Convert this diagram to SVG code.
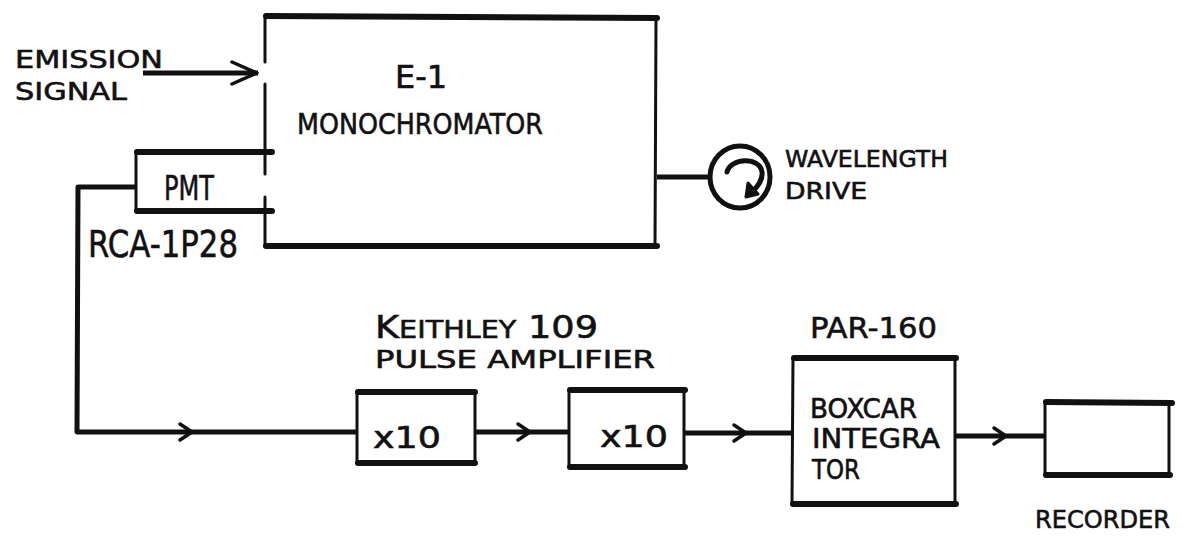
<svg xmlns="http://www.w3.org/2000/svg" width="1192" height="539" viewBox="0 0 1192 539">
<style>
.t{font-family:"DejaVu Sans","Liberation Sans",sans-serif;fill:#111;stroke:#111;stroke-width:0.6;}
.side{stroke:#111;stroke-width:3;fill:none;stroke-linecap:round;}
.edge{stroke:#111;stroke-width:6;fill:none;stroke-linecap:round;}
.wire{stroke:#111;stroke-width:5;fill:none;stroke-linejoin:round;}
.chev{stroke:#111;stroke-width:3.5;fill:none;stroke-linecap:round;stroke-linejoin:round;}
</style>
<rect width="1192" height="539" fill="#fff"/>

<g id="monochromator">
<path class="edge" d="M266 16 L657 18"/>
<path class="edge" d="M266 246 L657 246"/>
<path class="side" d="M656 18 L655 246"/>
<path class="side" d="M265 16 L265 62 M265 84 L265 174 M265 197 L265 246"/>
<text class="t" x="395" y="88" font-size="32" textLength="52" lengthAdjust="spacingAndGlyphs">E-1</text>
<text class="t" x="297" y="134" font-size="29" textLength="246" lengthAdjust="spacingAndGlyphs">MONOCHROMATOR</text>
</g>

<g id="pmt">
<path class="edge" d="M137 152 L272 152"/>
<path class="edge" d="M137 211 L272 211"/>
<path class="side" d="M136 152 L136 211"/>
<text class="t" x="164" y="200" font-size="34" textLength="50" lengthAdjust="spacingAndGlyphs">PMT</text>
<text class="t" x="88" y="257" font-size="38" textLength="150" lengthAdjust="spacingAndGlyphs">RCA-1P28</text>
</g>

<g id="emission-label">
<text class="t" x="15" y="68" font-size="25" textLength="148" lengthAdjust="spacingAndGlyphs">EMISSION</text>
<text class="t" x="15" y="100" font-size="25" textLength="112" lengthAdjust="spacingAndGlyphs">SIGNAL</text>
</g>

<g id="wavelength-drive">
<ellipse cx="740" cy="177" rx="30" ry="31" fill="none" stroke="#111" stroke-width="5"/>
<path d="M727 172 C730 158 760 156 762 172 C763 180 758 186 752 192" fill="none" stroke="#111" stroke-width="5" stroke-linecap="round"/>
<path d="M748 183 L746 197 L758 194 Z" fill="#111" stroke="#111" stroke-width="3" stroke-linejoin="round"/>
<text class="t" x="785" y="167" font-size="23" textLength="163" lengthAdjust="spacingAndGlyphs">WAVELENGTH</text>
<text class="t" x="785" y="199" font-size="23" textLength="82" lengthAdjust="spacingAndGlyphs">DRIVE</text>
</g>

<g id="amp1">
<path class="edge" d="M358 392 L475 392"/>
<path class="edge" d="M358 463 L475 463"/>
<path class="side" d="M357 392 L357 463 M475 392 L475 463"/>
<text class="t" x="373" y="448" font-size="30" textLength="68" lengthAdjust="spacingAndGlyphs">x10</text>
</g>

<g id="amp2">
<path class="edge" d="M570 390 L685 390"/>
<path class="edge" d="M570 467 L685 467"/>
<path class="side" d="M569 390 L569 467 M684 390 L684 467"/>
<text class="t" x="600" y="447" font-size="30" textLength="68" lengthAdjust="spacingAndGlyphs">x10</text>
</g>

<g id="keithley-label">
<text class="t" x="375" y="338" font-size="32" textLength="223" lengthAdjust="spacingAndGlyphs">K<tspan font-size="25">EITHLEY</tspan> 109</text>
<text class="t" x="375" y="368" font-size="25" textLength="280" lengthAdjust="spacingAndGlyphs">PULSE AMPLIFIER</text>
</g>

<g id="boxcar">
<path class="edge" d="M794 358 L956 358"/>
<path class="edge" d="M793 504 L956 504"/>
<path class="side" d="M793 358 L792 504 M955 358 L955 504"/>
<text class="t" x="810" y="338" font-size="29" textLength="127" lengthAdjust="spacingAndGlyphs">PAR-160</text>
<text class="t" x="810" y="418" font-size="26" textLength="107" lengthAdjust="spacingAndGlyphs">BOXCAR</text>
<text class="t" x="812" y="448" font-size="26" textLength="128" lengthAdjust="spacingAndGlyphs">INTEGRA</text>
<text class="t" x="812" y="479" font-size="26" textLength="48" lengthAdjust="spacingAndGlyphs">TOR</text>
</g>

<g id="recorder">
<path class="edge" d="M1046 402 L1172 403"/>
<path class="edge" d="M1046 475 L1170 475"/>
<path class="side" d="M1045 402 L1045 475 M1169 403 L1169 475"/>
<text class="t" x="1035" y="528" font-size="25" textLength="135" lengthAdjust="spacingAndGlyphs">RECORDER</text>
</g>

<g id="connectors">
<path class="wire" d="M143 73 L258 73"/>
<path class="chev" d="M232 62 L257 73 L232 84"/>
<path class="wire" d="M136 187 L78 187 L77 432 L357 432"/>
<path class="chev" d="M180 424 L192 432 L180 440"/>
<path class="wire" d="M475 432 L569 432"/>
<path class="chev" d="M518 424 L530 432 L518 440"/>
<path class="wire" d="M685 433 L792 433"/>
<path class="chev" d="M734 425 L746 433 L734 441"/>
<path class="wire" d="M955 436 L1045 436"/>
<path class="chev" d="M994 428 L1006 436 L994 444"/>
<path class="wire" d="M657 177 L710 177"/>
</g>
</svg>
